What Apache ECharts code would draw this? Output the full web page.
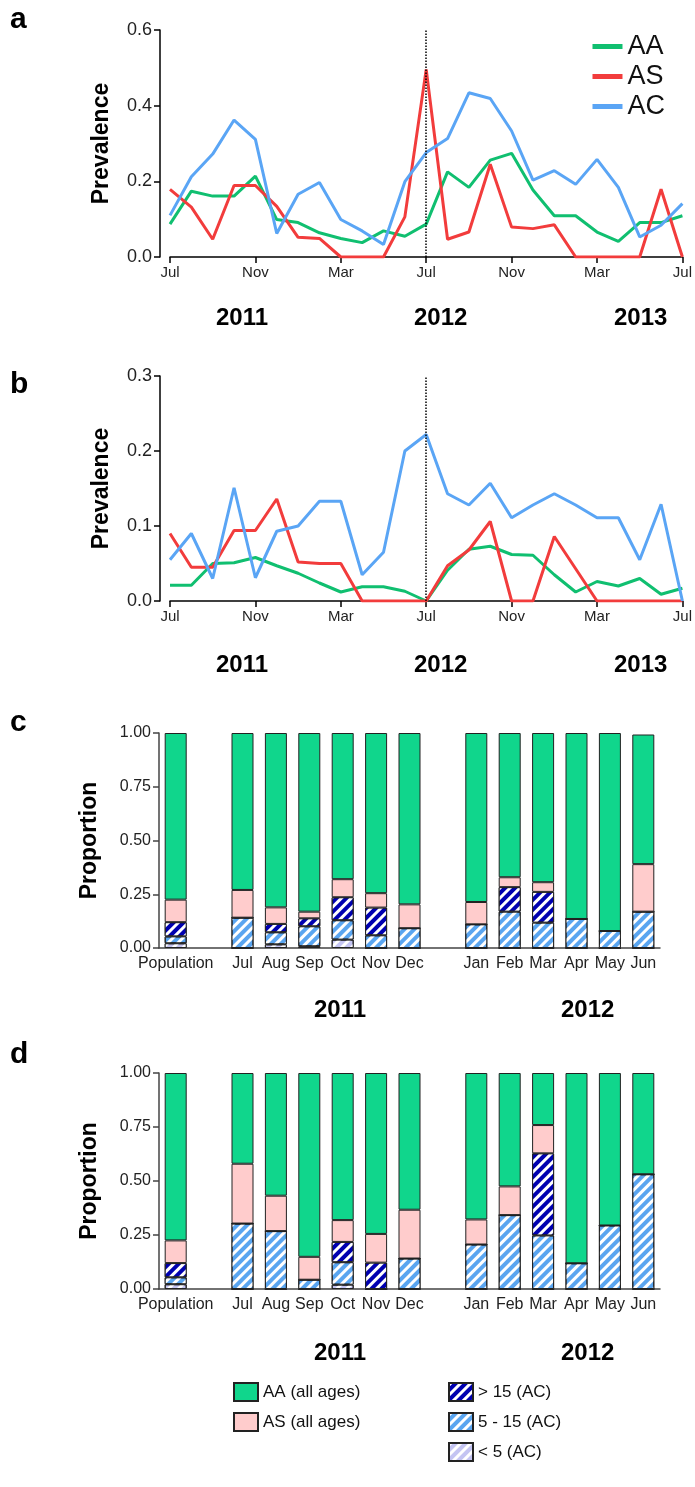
<!DOCTYPE html>
<html><head><meta charset="utf-8">
<script src="https://cdn.jsdelivr.net/npm/echarts@6/dist/echarts.min.js"></script>
<style>html,body{margin:0;padding:0;background:#fff}#c{width:695px;height:1487px}</style>
</head><body><div id="c"></div>
<script>
// months Jul 2011 .. Jul 2013
const months = ['Jul','Aug','Sep','Oct','Nov','Dec','Jan','Feb','Mar','Apr','May','Jun',
  'Jul','Aug','Sep','Oct','Nov','Dec','Jan','Feb','Mar','Apr','May','Jun','Jul'];

// panel a
const aAA = [0.087,0.174,0.161,0.161,0.214,0.099,0.091,0.064,0.049,0.038,0.069,0.055,0.087,0.225,0.184,0.256,0.274,0.177,0.109,0.109,0.066,0.041,0.091,0.091,0.109];
const aAS = [0.179,0.132,0.047,0.189,0.189,0.134,0.052,0.049,0,0,0,0.106,0.496,0.047,0.066,0.245,0.079,0.075,0.085,0,0,0,0,0.179,0];
const aAC = [0.110,0.212,0.272,0.362,0.311,0.062,0.166,0.197,0.099,0.069,0.033,0.199,0.276,0.313,0.434,0.419,0.333,0.203,0.228,0.192,0.258,0.184,0.053,0.084,0.141];
// panel b
const bAA = [0.021,0.021,0.050,0.051,0.058,0.047,0.037,0.024,0.012,0.019,0.019,0.013,0,0.041,0.069,0.073,0.062,0.061,0.035,0.012,0.026,0.020,0.030,0.009,0.017];
const bAS = [0.090,0.045,0.045,0.094,0.094,0.136,0.052,0.050,0.050,0,0,0,0,0.047,0.068,0.106,0,0,0.086,0.043,0,0,0,0,0];
const bAC = [0.055,0.090,0.030,0.151,0.031,0.093,0.100,0.133,0.133,0.035,0.065,0.200,0.222,0.143,0.128,0.157,0.111,0.128,0.143,0.128,0.111,0.111,0.055,0.129,0];

// bar panels: categories ('' = gap)
const barCats = ['Population','','Jul','Aug','Sep','Oct','Nov','Dec','','Jan','Feb','Mar','Apr','May','Jun'];
// cumulative tops per layer: <5, 5-15, >15, AS, AA(total)
const cLt5  = [0.022,null,0,0.017,0.008,0.039,0,0,null,0,0,0,0,0,0];
const c5to15= [0.054,null,0.141,0.073,0.101,0.129,0.059,0.092,null,0.110,0.169,0.118,0.135,0.079,0.169];
const cGt15 = [0.120,null,0.141,0.112,0.138,0.236,0.188,0.092,null,0.110,0.283,0.261,0.135,0.079,0.169];
const cAS   = [0.225,null,0.270,0.189,0.169,0.320,0.255,0.203,null,0.214,0.329,0.306,0.135,0.079,0.390];
const cAA   = [1,null,1,1,1,1,1,1,null,1,1,1,1,1,0.993];

const dLt5  = [0.022,null,0,0,0,0.020,0,0,null,0,0,0,0,0,0];
const d5to15= [0.054,null,0.303,0.268,0.043,0.124,0,0.141,null,0.206,0.342,0.248,0.119,0.294,0.531];
const dGt15 = [0.120,null,0.303,0.268,0.043,0.218,0.122,0.141,null,0.206,0.342,0.628,0.119,0.294,0.531];
const dAS   = [0.225,null,0.580,0.432,0.149,0.319,0.255,0.367,null,0.322,0.475,0.759,0.119,0.294,0.531];
const dAA   = [1,null,1,1,1,1,1,1,null,1,1,1,1,1,1];

const GREEN_L = '#10bf70', RED = '#f23c3c', BLUE = '#5aa5f5';
const GREEN_B = '#10d68c', PINK = '#ffcccc', NAVY = '#0000b0', MID = '#5aa5f0', LIGHT = '#c4c4f2';
const FONT = 'Liberation Sans';

const diff = (top, low) => top.map((v, i) => v == null ? null : +(v - (low ? low[i] : 0)).toFixed(3));
const stripe = {symbol: 'rect', symbolSize: 1, dashArrayX: [1, 0], dashArrayY: [3, 4], rotation: -Math.PI / 4, color: '#fff'};

const lineGrids = [{left: 170, right: 8, top: 30, height: 227}, {left: 170, right: 8, top: 376, height: 225}];
const barGrids = [{left: 159, right: 35, top: 733, height: 215}, {left: 159, right: 35, top: 1073, height: 216}];

const xLine = gi => ({
  type: 'category', gridIndex: gi, data: months, boundaryGap: false,
  axisLine: {lineStyle: {color: '#000', width: 1.5}},
  axisTick: {interval: 3, length: 6, lineStyle: {color: '#000', width: 1.5}},
  axisLabel: {interval: 3, color: '#222', fontSize: 15, fontFamily: FONT, margin: 8}
});
const yLine = (gi, max, itv) => ({
  type: 'value', gridIndex: gi, min: 0, max: max, interval: itv, offset: 10,
  name: 'Prevalence', nameLocation: 'middle', nameGap: 47,
  nameTextStyle: {fontSize: 23, fontWeight: 'bold', color: '#000', fontFamily: FONT},
  axisLine: {show: true, lineStyle: {color: '#000', width: 1.5}},
  axisTick: {show: true, length: 6, lineStyle: {color: '#000', width: 1.5}},
  splitLine: {show: false},
  axisLabel: {color: '#222', fontSize: 18, fontFamily: FONT, formatter: v => v.toFixed(1)}
});
const xBar = gi => ({
  type: 'category', gridIndex: gi, data: barCats,
  axisLine: {lineStyle: {color: '#444', width: 1.5}},
  axisTick: {alignWithLabel: true, interval: (i, v) => v !== '', length: 6, lineStyle: {color: '#444', width: 1.5}},
  axisLabel: {interval: 0, color: '#222', fontSize: 16, fontFamily: FONT, margin: 8}
});
const yBar = gi => ({
  type: 'value', gridIndex: gi, min: 0, max: 1, interval: 0.25,
  name: 'Proportion', nameLocation: 'middle', nameGap: 58,
  nameTextStyle: {fontSize: 23, fontWeight: 'bold', color: '#000', fontFamily: FONT},
  axisLine: {show: true, lineStyle: {color: '#444', width: 1.5}},
  axisTick: {show: true, length: 6, lineStyle: {color: '#444', width: 1.5}},
  splitLine: {show: false},
  axisLabel: {color: '#222', fontSize: 16, fontFamily: FONT, formatter: v => v.toFixed(2)}
});

const lineS = (name, data, color, gi, mark) => {
  const s = {name: name, type: 'line', data: data, xAxisIndex: gi, yAxisIndex: gi, symbol: 'none',
    lineStyle: {color: color, width: 3}, itemStyle: {color: color}, z: 3};
  if (mark) s.markLine = {symbol: 'none', silent: true, label: {show: false},
    lineStyle: {color: '#000', type: 'dotted', width: 1.5}, data: [{xAxis: 12}]};
  return s;
};
const barS = (name, data, color, gi, decal) => ({
  name: name, type: 'bar', stack: 's' + gi, data: data, xAxisIndex: gi + 2, yAxisIndex: gi + 2,
  barWidth: 22,
  itemStyle: {color: color, borderColor: '#222', borderWidth: 1, decal: decal || null}
});

const yearText = (x, y, t) => ({type: 'text', left: x, top: y,
  style: {text: t, fill: '#000', font: 'bold 24px ' + FONT}});
const panelText = (y, t) => ({type: 'text', left: 10, top: y,
  style: {text: t, fill: '#000', font: 'bold 30px ' + FONT}});

const option = {
  animation: false,
  textStyle: {fontFamily: FONT},
  grid: lineGrids.concat(barGrids),
  xAxis: [xLine(0), xLine(1), xBar(2), xBar(3)],
  yAxis: [yLine(0, 0.6, 0.2), yLine(1, 0.3, 0.1), yBar(2), yBar(3)],
  legend: [
    {data: ['AA', 'AS', 'AC'], orient: 'vertical', right: 25, top: 28, itemGap: 3,
      icon: 'rect', itemWidth: 30, itemHeight: 5,
      textStyle: {fontSize: 27, color: '#111', fontFamily: FONT}},
    {data: ['AA (all ages)', 'AS (all ages)'], orient: 'vertical', left: 228, top: 1377, itemGap: 10,
      icon: 'rect', itemWidth: 24, itemHeight: 18,
      textStyle: {fontSize: 17, color: '#111', fontFamily: FONT}},
    {data: ['> 15 (AC)', '5 - 15 (AC)', '< 5 (AC)'], orient: 'vertical', left: 443, top: 1377, itemGap: 10,
      icon: 'rect', itemWidth: 24, itemHeight: 18,
      textStyle: {fontSize: 17, color: '#111', fontFamily: FONT}}
  ],
  graphic: [
    panelText(5, 'a'), panelText(370, 'b'), panelText(708, 'c'), panelText(1040, 'd'),
    yearText(216, 306, '2011'), yearText(414, 306, '2012'), yearText(614, 306, '2013'),
    yearText(216, 653, '2011'), yearText(414, 653, '2012'), yearText(614, 653, '2013'),
    yearText(314, 998, '2011'), yearText(561, 998, '2012'),
    yearText(314, 1341, '2011'), yearText(561, 1341, '2012')
  ],
  series: [
    lineS('AA', aAA, GREEN_L, 0, true), lineS('AS', aAS, RED, 0), lineS('AC', aAC, BLUE, 0),
    lineS('AA', bAA, GREEN_L, 1, true), lineS('AS', bAS, RED, 1), lineS('AC', bAC, BLUE, 1),
    barS('< 5 (AC)', diff(cLt5), LIGHT, 0, stripe),
    barS('5 - 15 (AC)', diff(c5to15, cLt5), MID, 0, stripe),
    barS('> 15 (AC)', diff(cGt15, c5to15), NAVY, 0, stripe),
    barS('AS (all ages)', diff(cAS, cGt15), PINK, 0),
    barS('AA (all ages)', diff(cAA, cAS), GREEN_B, 0),
    barS('< 5 (AC)', diff(dLt5), LIGHT, 1, stripe),
    barS('5 - 15 (AC)', diff(d5to15, dLt5), MID, 1, stripe),
    barS('> 15 (AC)', diff(dGt15, d5to15), NAVY, 1, stripe),
    barS('AS (all ages)', diff(dAS, dGt15), PINK, 1),
    barS('AA (all ages)', diff(dAA, dAS), GREEN_B, 1)
  ]
};
echarts.init(document.getElementById('c')).setOption(option);
</script></body></html>
